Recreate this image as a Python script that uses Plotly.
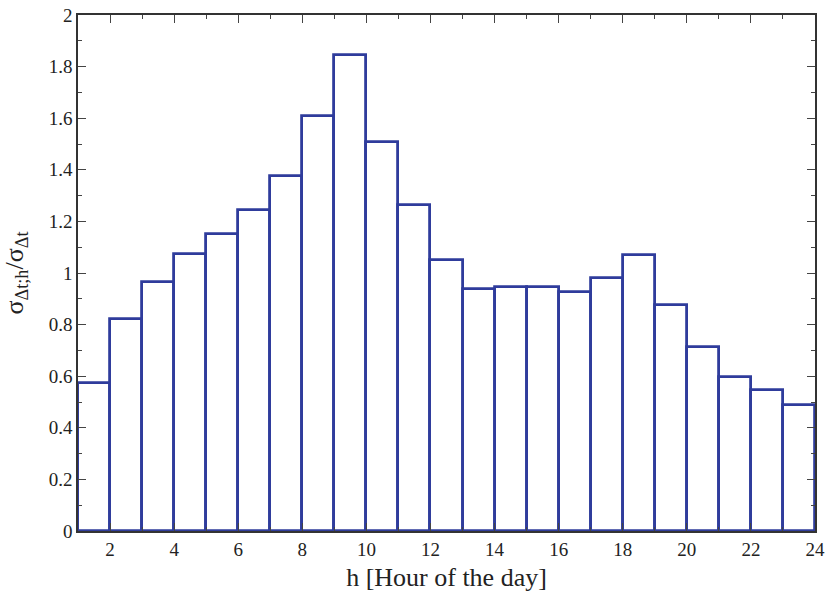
import plotly.graph_objects as go

hours_start = list(range(1, 24))
ratio = [0.575, 0.82, 0.965, 1.075, 1.15, 1.245, 1.377, 1.609, 1.845, 1.507,
         1.262, 1.049, 0.937, 0.947, 0.944, 0.925, 0.982, 1.071, 0.876, 0.715,
         0.595, 0.545, 0.49]
x_centers = [h + 0.5 for h in hours_start]

blue = "#2F3C9C"
fig = go.Figure()
fig.add_trace(go.Bar(
    x=x_centers, y=ratio, width=1.0,
    marker=dict(color="white", line=dict(color=blue, width=2.8)),
    showlegend=False, hoverinfo="skip",
))

font = "Liberation Serif"
fig.update_layout(
    width=826, height=596,
    margin=dict(l=78, r=11, t=15, b=65),
    plot_bgcolor="white", paper_bgcolor="white",
    font=dict(family=font, size=19, color="#222222"),
    bargap=0,
)
fig.update_xaxes(range=[1, 24], tick0=2, dtick=2,
                 minor=dict(dtick=1, tick0=1, ticks="inside", ticklen=4, tickcolor="#444444"),
                 title=dict(text="h [Hour of the day]", font=dict(family=font, size=26, color="#222222"), standoff=9))
fig.update_yaxes(range=[0, 2], tick0=0, dtick=0.2,
                 minor=dict(dtick=0.1, ticks="inside", ticklen=4, tickcolor="#444444"),
                 title=dict(text="σ<sub>Δt;h</sub>/σ<sub>Δt</sub>", font=dict(family=font, size=26, color="#222222"), standoff=19))
for upd in (fig.update_xaxes, fig.update_yaxes):
    upd(showline=True, linecolor="#333333", linewidth=1.5, mirror="allticks",
        ticks="inside", tickcolor="#444444", ticklen=8, tickwidth=1.2,
        showgrid=False, zeroline=False, automargin=False, layer="above traces",
        tickfont_family=font, tickfont_size=19, tickfont_color="#222222")
fig.write_html("out.html", config={"displayModeBar": False},
               post_script="document.body.style.margin='0';")
